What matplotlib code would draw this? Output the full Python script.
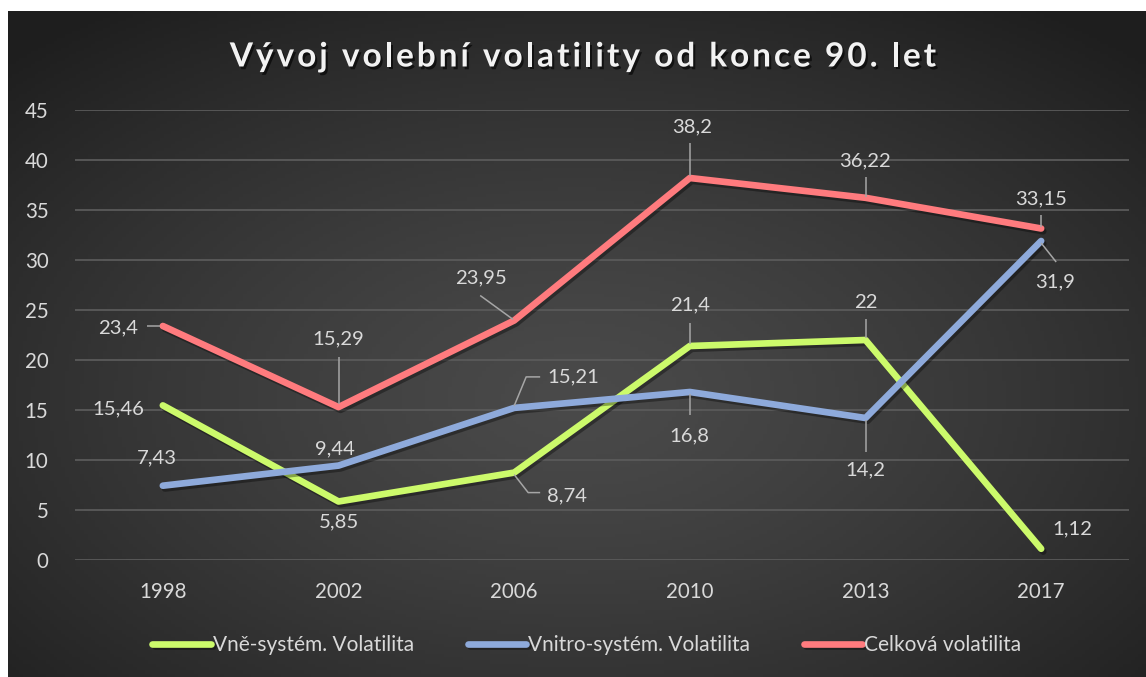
"""
Vyvoj volebni volatility od konce 90. let
usage: python plot.py  -> out.png
"""

import matplotlib
matplotlib.use('Agg')
import matplotlib.pyplot as plt
import matplotlib.patheffects as pe
import numpy as np

# Data
years = ['1998', '2002', '2006', '2010', '2013', '2017']
vne = [15.46, 5.85, 8.74, 21.4, 22, 1.12]
vnitro = [7.43, 9.44, 15.21, 16.8, 14.2, 31.9]
celkova = [23.4, 15.29, 23.95, 38.2, 36.22, 33.15]
series_names = ['Vně-systém. Volatilita', 'Vnitro-systém. Volatilita', 'Celková volatilita']
title = 'Vývoj volební volatility od konce 90. let'

# Styling
colors = ['#ccfa6b', '#8eaadb', '#ff7b7e']
txt_col = '#d9d9d9'
lead_col = '#a6a6a6'
font = 'Lato'

# label placement per point: (dx, dy, ha, leader path) in pixels from the point
lab_vne = [(-19, -3, 'right', None),
           (0, -20, 'center', None),
           (33, -23, 'left', [(0, -2), (14, -20), (26, -20)]),
           (0, 41, 'center', [(0, 2), (0, 23)]),
           (0, 38, 'center', [(0, 2), (0, 21)]),
           (11, 20, 'left', None)]
lab_vnitro = [(-6, 28, 'center', None),
              (-4, 17, 'center', None),
              (33, 31, 'left', [(0, 2), (12, 31), (26, 31)]),
              (0, -44, 'center', [(0, -2), (0, -23)]),
              (0, -52, 'center', [(0, -2), (0, -34)]),
              (14, -41, 'center', [(0, -2), (15, -21)])]
lab_celk = [(-25, -2, 'right', [(-3, 0), (-16, 0)]),
            (0, 68, 'center', [(0, 3), (0, 50)]),
            (-33, 43, 'center', [(-1, 1), (-34, 25)]),
            (2, 51, 'center', [(0, 2), (0, 35)]),
            (0, 37, 'center', [(0, 1), (0, 21)]),
            (0, 30, 'center', [(0, 1), (0, 13)])]

W, H, DPI = 1146, 677, 100
fig = plt.figure(figsize=(W / DPI, H / DPI), dpi=DPI, facecolor='white')

# dark radial-gradient panel (white strip top and left like the source)
bg = fig.add_axes([8 / W, 0, 1 - 8 / W, 1 - 11 / H])
gx, gy = np.meshgrid(np.linspace(0, 1, 300), np.linspace(0, 1, 200))
r = np.sqrt(((gx - 0.5) / 0.75) ** 2 + ((gy - 0.42) / 0.75) ** 2)
shade = 0.29 - 0.17 * np.clip(r / 0.95, 0, 1) ** 1.3
bg.imshow(np.dstack([shade] * 3), aspect='auto', origin='lower', extent=[0, 1, 0, 1])
bg.axis('off')

ax = fig.add_axes([75 / W, 117 / H, 1054 / W, 450 / H])
ax.patch.set_alpha(0)
x = np.arange(len(years))
ax.set_xlim(-0.5, len(years) - 0.5)
ax.set_ylim(0, 45)
ax.set_autoscale_on(False)

shadow = [pe.SimpleLineShadow(offset=(1.5, -2), shadow_color='black', alpha=0.35), pe.Normal()]
for vals, col, name in zip([vne, vnitro, celkova], colors, series_names):
    ax.plot(x, vals, color=col, lw=4.8, label=name, solid_capstyle='round',
            solid_joinstyle='round', path_effects=shadow, zorder=3)

# data labels with leader lines
for vals, labs in zip([vne, vnitro, celkova], [lab_vne, lab_vnitro, lab_celk]):
    for xi, v, (dx, dy, ha, lead) in zip(x, vals, labs):
        s = ('%g' % v).replace('.', ',')
        ax.annotate(s, (xi, v), xytext=(dx, dy), textcoords='offset pixels',
                    ha=ha, va='center', color=txt_col, fontsize=14.6, family=font, zorder=5)
        if lead:
            px, py = ax.transData.transform((xi, v))
            pts = np.array([ax.transData.inverted().transform((px + a, py + b)) for a, b in lead])
            ax.plot(pts[:, 0], pts[:, 1], color=lead_col, lw=1.1, zorder=4, solid_capstyle='butt')

ax.set_yticks(np.arange(0, 46, 5))
ax.set_xticks(x)
ax.set_xticklabels(years)
ax.grid(axis='y', color='#5a5a5a', lw=1.3)
ax.set_axisbelow(True)
for sp in ax.spines.values():
    sp.set_visible(False)
ax.tick_params(length=0, colors=txt_col, labelsize=14.8)
ax.tick_params(axis='x', pad=16)
ax.tick_params(axis='y', pad=19)
for lab in ax.get_xticklabels() + ax.get_yticklabels():
    lab.set_family(font)

# title with letter spacing, drawn one glyph at a time
renderer = fig.canvas.get_renderer()
tprops = dict(fontsize=24, fontweight='bold', family=font)
probe = fig.text(0, 0, '', **tprops)
spacing = 3.0
widths = []
for i in range(len(title) + 1):
    probe.set_text(title[:i].replace(' ', '\u00a0') if i else '')
    widths.append(probe.get_window_extent(renderer).width if i else 0.0)
probe.remove()
total = widths[-1] + spacing * (len(title) - 1)
x0 = 583 - total / 2
tshadow = [pe.withSimplePatchShadow(offset=(1.5, -2), shadow_rgbFace='black', alpha=0.6)]
for i, ch in enumerate(title):
    if ch == ' ':
        continue
    fig.text((x0 + widths[i] + spacing * i) / W, 1 - 57 / H, ch, ha='left', va='center',
             color='#f2f2f2', path_effects=tshadow, **tprops)

leg = ax.legend(loc='center', bbox_to_anchor=(587 / W, 1 - 645 / H), bbox_transform=fig.transFigure,
                ncol=3, frameon=False, handlelength=2.8, handletextpad=0.12, columnspacing=2.55,
                prop={'family': font, 'size': 15})
for t in leg.get_texts():
    t.set_color(txt_col)

fig.savefig('out.png', dpi=DPI, facecolor='white')
